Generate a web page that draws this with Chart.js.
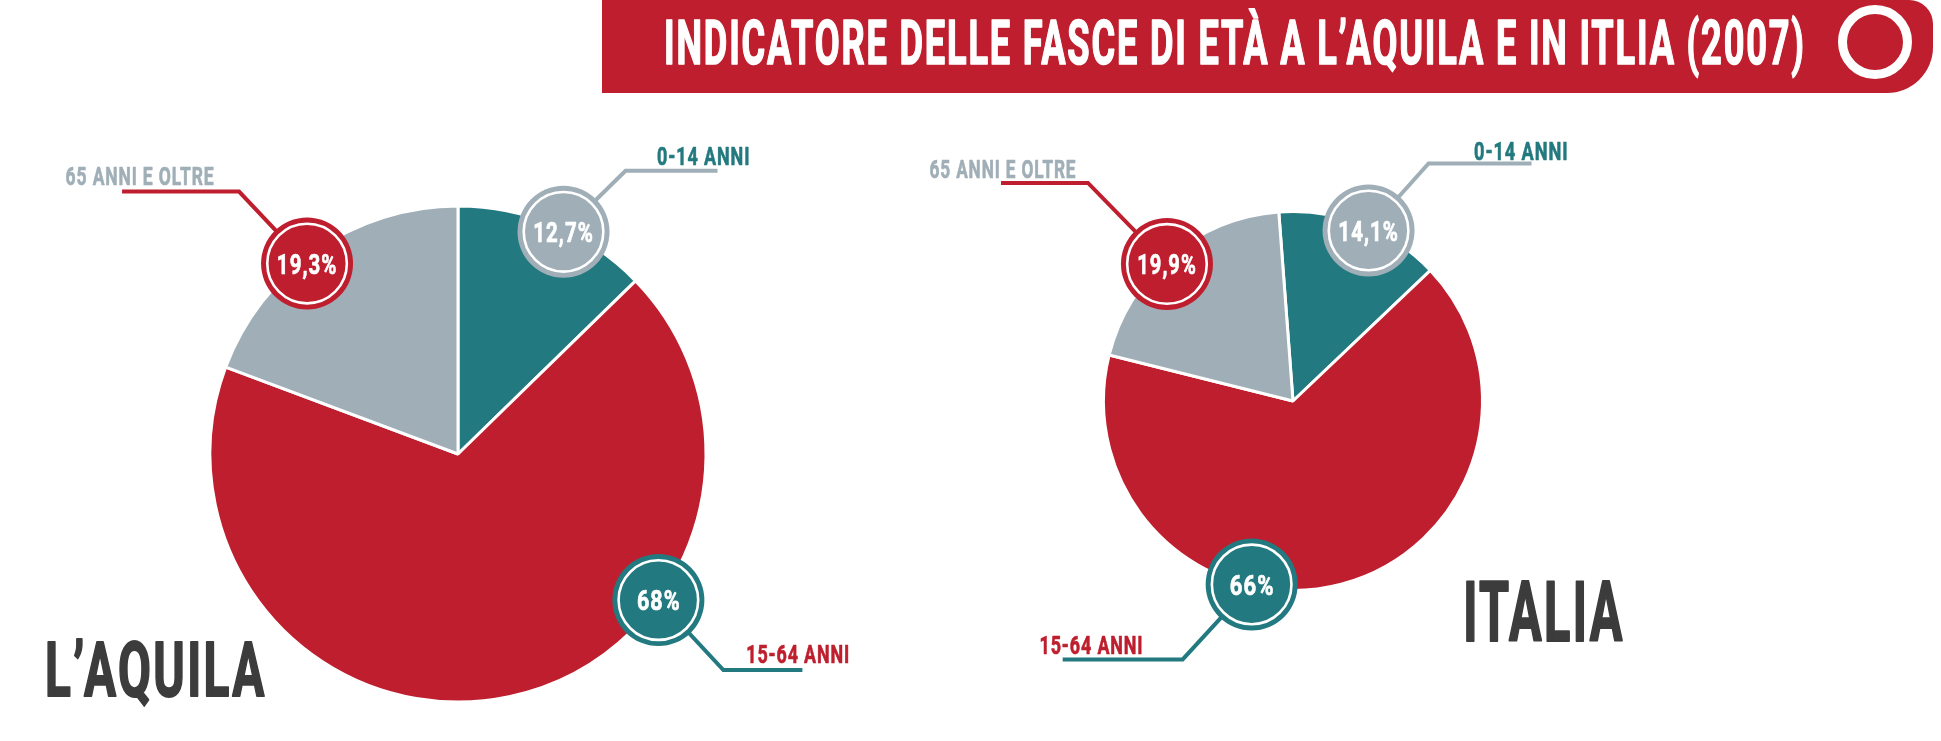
<!DOCTYPE html>
<html><head><meta charset="utf-8">
<script src="https://cdn.jsdelivr.net/npm/chart.js@4/dist/chart.umd.min.js"></script>
<style>
html,body{margin:0;padding:0;background:#fff;width:1941px;height:741px;overflow:hidden;}
#bar{position:absolute;left:602px;top:0;width:1331px;height:93px;background:#BE1E2D;border-radius:0 24px 46px 0;}
#ring{position:absolute;left:1838px;top:5px;width:74px;height:74px;box-sizing:border-box;border:9px solid #fff;border-radius:50%;}
canvas{position:absolute;left:0;top:0;}
</style></head><body>
<div id="bar"></div><div id="ring"></div>
<canvas id="c1" width="1941" height="741"></canvas>
<canvas id="c2" width="1941" height="741"></canvas>
<script>
// ---- data ----
const categories = ['0-14 ANNI', '15-64 ANNI', '65 ANNI E OLTRE'];
const aquilaValues = [12.7, 68, 19.3];
const italiaValues = [14.1, 66, 19.9];
const aquilaPctLabels = ['12,7%', '68%', '19,3%'];
const italiaPctLabels = ['14,1%', '66%', '19,9%'];
const titleText = 'INDICATORE DELLE FASCE DI ETÀ A L’AQUILA E IN ITLIA (2007)';
const chartNames = ['L’AQUILA', 'ITALIA'];

// ---- styles ----
const RED = '#BE1E2D', TEAL = '#22797F', GREY = '#A0AFB7', DARK = '#3C3C3C';
const sliceColors = [TEAL, RED, GREY];
const bubbleColors = [GREY, TEAL, RED];
const textColors = [TEAL, RED, GREY];
const FONT = 'Roboto';

function fitText(ctx, text, x, baseline, cap, width, color, align) {
  ctx.save();
  const t = cap * 0.035;            // extra stroke weight
  ctx.font = '700 100px ' + FONT;
  const capRatio = ctx.measureText('H').actualBoundingBoxAscent / 100;
  const size = (cap - t) / capRatio;
  ctx.font = '700 ' + size + 'px ' + FONT;
  ctx.letterSpacing = (size * 0.05) + 'px';
  ctx.textBaseline = 'alphabetic';
  ctx.textAlign = 'left';
  const m = ctx.measureText(text);
  const abl = m.actualBoundingBoxLeft;
  const abr = m.actualBoundingBoxRight;
  let sx = width / (abl + abr);
  sx = (width - t * sx) / (abl + abr);
  const left = align === 'center' ? x - width / 2 : (align === 'right' ? x - width : x);
  ctx.translate(left + t * sx / 2 + abl * sx, baseline - t / 2);
  ctx.scale(sx, 1);
  ctx.fillStyle = color;
  ctx.strokeStyle = color;
  ctx.lineWidth = t;
  ctx.lineJoin = 'round';
  ctx.fillText(text, 0, 0);
  ctx.strokeText(text, 0, 0);
  ctx.restore();
}

function calloutPlugin(cfg) {
  return {
    id: 'callouts',
    afterDraw(chart) {
      const ctx = chart.ctx;
      const arc = chart.getDatasetMeta(0).data[0];
      const cx = arc.x, cy = arc.y, R = arc.outerRadius;
      cfg.callouts.forEach((c, i) => {
        const a = c.angle * Math.PI / 180;
        const d = R + c.dr;
        const bx = cx + d * Math.sin(a);
        const by = cy - d * Math.cos(a);
        // leader
        ctx.save();
        ctx.strokeStyle = bubbleColors[i];
        ctx.lineWidth = 4;
        ctx.lineJoin = 'miter';
        ctx.beginPath();
        ctx.moveTo(bx, by);
        ctx.lineTo(bx + c.elbow[0], by + c.elbow[1]);
        ctx.lineTo(bx + c.endX, by + c.elbow[1]);
        ctx.stroke();
        // bubble
        ctx.fillStyle = bubbleColors[i];
        ctx.beginPath();
        ctx.arc(bx, by, 46, 0, Math.PI * 2);
        ctx.fill();
        ctx.strokeStyle = '#fff';
        ctx.lineWidth = 2.6;
        ctx.beginPath();
        ctx.arc(bx, by, 39.8, 0, Math.PI * 2);
        ctx.stroke();
        ctx.restore();
        fitText(ctx, cfg.pct[i], bx, by + 10.5, 21, c.pctW, '#fff', 'center');
        fitText(ctx, categories[i], bx + c.text[0], by + c.text[1], 19.5, c.textW, textColors[i], 'left');
      });
      cfg.extra(ctx);
    }
  };
}

function makeChart(id, values, rotation, padding, cfg) {
  return new Chart(document.getElementById(id), {
    type: 'pie',
    data: {
      labels: categories,
      datasets: [{
        data: values,
        backgroundColor: sliceColors,
        borderColor: '#fff',
        borderWidth: 3,
        hoverBorderWidth: 3,
        hoverOffset: 0,
        offset: 0
      }]
    },
    options: {
      responsive: false,
      animation: false,
      events: [],
      rotation: rotation,
      layout: { padding: padding },
      plugins: { legend: { display: false }, tooltip: { enabled: false } }
    },
    plugins: [calloutPlugin(cfg)]
  });
}

makeChart('c1', aquilaValues, 0,
  { left: 208.5, top: 204.5, right: 1233.5, bottom: 37.5 },
  {
    pct: aquilaPctLabels,
    callouts: [
      { angle: 25.4, dr: -2, elbow: [62, -61], endX: 154, text: [94, -66], textW: 91, pctW: 58 },
      { angle: 126.1, dr: 0, elbow: [65, 70], endX: 144, text: [89, 63], textW: 101, pctW: 42 },
      { angle: -38.4, dr: -5, elbow: [-68, -72], endX: -185, text: [-241, -78], textW: 148, pctW: 58 }
    ],
    extra(ctx) {
      fitText(ctx, titleText, 666, 65, 46, 1137, '#fff', 'left');
      fitText(ctx, chartNames[0], 47, 697, 56.5, 218, DARK, 'left');
    }
  });

makeChart('c2', italiaValues, -4.3,
  { left: 1102, top: 210, right: 457, bottom: 149 },
  {
    pct: italiaPctLabels,
    callouts: [
      { angle: 23.9, dr: -3, elbow: [60, -67], endX: 163, text: [106, -70], textW: 92, pctW: 58 },
      { angle: 192.7, dr: -1.5, elbow: [-69, 75], endX: -189, text: [-211, 70], textW: 101, pctW: 43 },
      { angle: -42.6, dr: -3.3, elbow: [-79, -81], endX: -166, text: [-237, -86], textW: 146, pctW: 57 }
    ],
    extra(ctx) {
      fitText(ctx, chartNames[1], 1466, 642, 62, 157, DARK, 'left');
    }
  });
</script>
</body></html>
